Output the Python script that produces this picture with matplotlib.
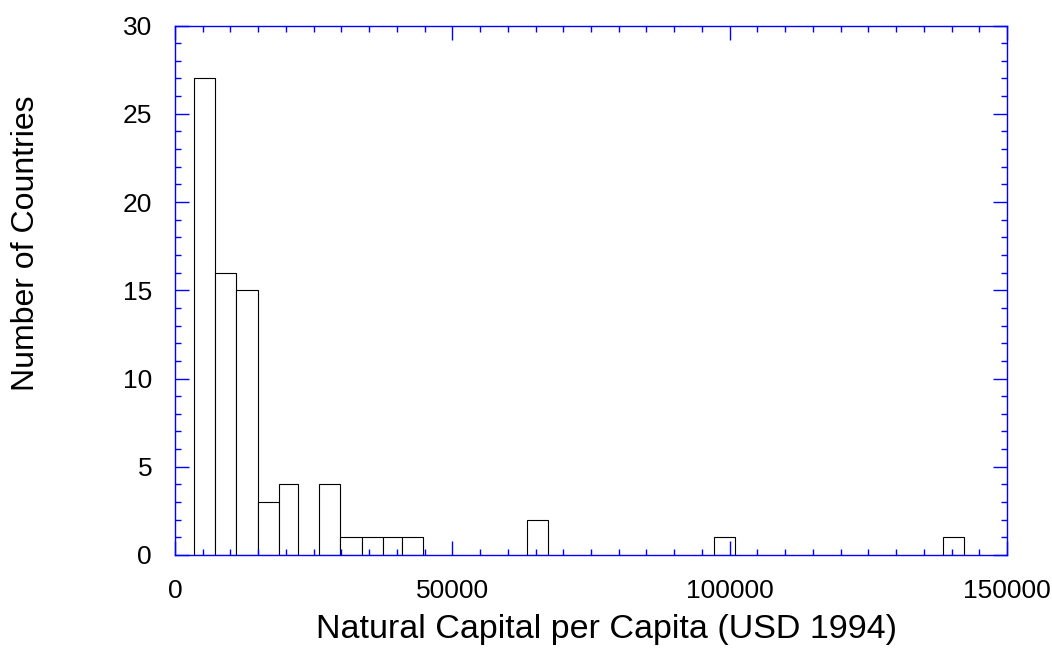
import matplotlib
matplotlib.use("Agg")
import matplotlib.pyplot as plt
from matplotlib.ticker import MultipleLocator
import numpy as np

plt.rcParams["font.family"] = ["Liberation Sans", "DejaVu Sans"]

# Histogram bins (USD 1994) and number of countries in each
bin_lo = [3370, 7210, 11000, 14910, 18700, 25910, 29800, 33660, 37500, 40870,
          63460, 97120, 138460]
bin_hi = [7210, 11000, 14910, 18700, 22120, 29800, 33660, 37500, 40870, 44710,
          67300, 100960, 142300]
counts = [27, 16, 15, 3, 4, 4, 1, 1, 1, 1, 2, 1, 1]

x_label = "Natural Capital per Capita (USD 1994)"
y_label = "Number of Countries"

fig = plt.figure(figsize=(10.52, 6.5), dpi=100)
ax = fig.add_axes([175 / 1052, 1 - 555 / 650, 832 / 1052, 529.5 / 650])

widths = np.subtract(bin_hi, bin_lo)
ax.bar(bin_lo, counts, width=widths, align="edge", facecolor="white",
       edgecolor="black", linewidth=0.8)

ax.set_xlim(0, 150000)
ax.set_ylim(0, 30)
ax.xaxis.set_major_locator(MultipleLocator(50000))
ax.xaxis.set_minor_locator(MultipleLocator(5000))
ax.yaxis.set_major_locator(MultipleLocator(5))
ax.yaxis.set_minor_locator(MultipleLocator(1))

axis_blue = "#0000ff"
for s in ax.spines.values():
    s.set_color(axis_blue)
    s.set_linewidth(1.0)

ax.tick_params(which="both", direction="in", top=True, right=True,
               color=axis_blue, labelcolor="black", width=1.0)
ax.tick_params(which="major", length=10, labelsize=19)
ax.tick_params(which="minor", length=4.3)
ax.tick_params(axis="x", which="major", pad=17)
ax.tick_params(axis="y", which="major", pad=16.5)

fig.text(606 / 1052, 1 - 638 / 650, x_label, fontsize=24.5,
         ha="center", va="baseline")
fig.text(26 / 1052, 1 - 243.5 / 650, y_label, fontsize=23,
         ha="center", va="center", rotation=90)

fig.savefig("out.png", dpi=100)
